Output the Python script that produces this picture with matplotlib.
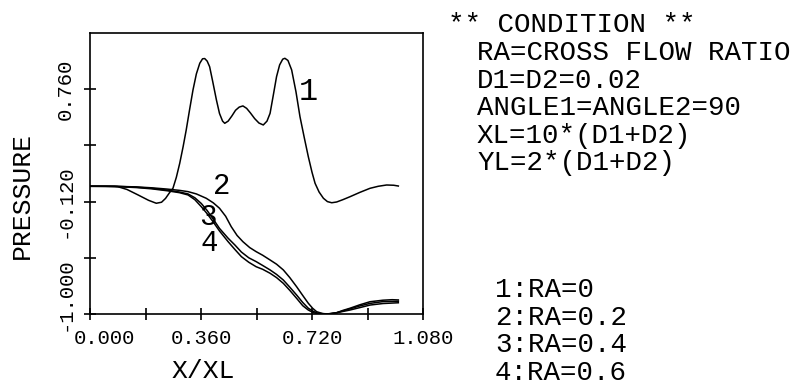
import matplotlib
matplotlib.use("Agg")
import matplotlib.pyplot as plt
import matplotlib.transforms as mtransforms

plt.rcParams['font.family'] = ['Liberation Mono', 'DejaVu Sans Mono']

# curve 1 : RA=0
x1 = [0.0, 0.05, 0.09, 0.12, 0.156, 0.19, 0.215, 0.232, 0.245, 0.258, 0.269,
      0.28, 0.291, 0.302, 0.312, 0.323, 0.334, 0.345, 0.356, 0.365, 0.372,
      0.38, 0.388, 0.398, 0.41, 0.42, 0.43, 0.437, 0.448, 0.46, 0.472, 0.484,
      0.496, 0.508, 0.52, 0.534, 0.548, 0.562, 0.574, 0.584, 0.595, 0.605,
      0.615, 0.625, 0.632, 0.642, 0.654, 0.668, 0.681, 0.695, 0.708, 0.72,
      0.73, 0.743, 0.757, 0.77, 0.784, 0.80, 0.82, 0.843, 0.875, 0.908,
      0.935, 0.962, 0.985, 1.0]
y1 = [0.0, 0.0, -0.003, -0.025, -0.068, -0.11, -0.133, -0.125, -0.095, -0.05,
      -0.016, 0.07, 0.18, 0.31, 0.44, 0.60, 0.754, 0.88, 0.963, 0.998, 1.0,
      0.98, 0.936, 0.82, 0.676, 0.57, 0.51, 0.493, 0.51, 0.55, 0.595, 0.62,
      0.629, 0.61, 0.575, 0.53, 0.495, 0.48, 0.51, 0.571, 0.72, 0.858,
      0.95, 0.995, 1.002, 0.985, 0.911, 0.74, 0.545, 0.38, 0.232, 0.11,
      0.023, -0.045, -0.094, -0.12, -0.129, -0.123, -0.105, -0.082, -0.048,
      -0.016, 0.0, 0.01, 0.008, 0.002]

# curve 2 : RA=0.2
x2 = [0.0, 0.08, 0.15, 0.2, 0.25, 0.29, 0.318, 0.345, 0.377, 0.40, 0.42, 0.44,
      0.458, 0.477, 0.496, 0.518, 0.539, 0.56, 0.584, 0.605, 0.627, 0.648,
      0.67, 0.69, 0.708, 0.722, 0.735, 0.755, 0.778, 0.80, 0.82, 0.843,
      0.875, 0.908, 0.95, 0.98, 1.0]
y2 = [0.0, 0.0, -0.005, -0.012, -0.022, -0.032, -0.042, -0.06, -0.094, -0.13,
      -0.172, -0.235, -0.316, -0.385, -0.434, -0.48, -0.512, -0.54, -0.577,
      -0.61, -0.655, -0.715, -0.786, -0.855, -0.916, -0.955, -0.982, -0.997,
      -1.0, -0.99, -0.972, -0.955, -0.928, -0.904, -0.892, -0.888, -0.89]

# curve 3 : RA=0.4
x3 = [0.0, 0.08, 0.15, 0.2, 0.25, 0.29, 0.318, 0.34, 0.361, 0.38, 0.399, 0.42,
      0.448, 0.47, 0.491, 0.515, 0.539, 0.56, 0.584, 0.605, 0.627, 0.648,
      0.67, 0.69, 0.708, 0.725, 0.74, 0.772, 0.80, 0.843, 0.875, 0.908,
      0.95, 1.0]
y3 = [0.0, 0.0, -0.007, -0.016, -0.03, -0.045, -0.06, -0.09, -0.135, -0.19,
      -0.255, -0.33, -0.407, -0.46, -0.515, -0.56, -0.59, -0.62, -0.655,
      -0.69, -0.734, -0.79, -0.851, -0.91, -0.955, -0.98, -0.995, -1.0,
      -0.99, -0.96, -0.937, -0.917, -0.903, -0.90]

# curve 4 : RA=0.6
x4 = [0.0, 0.08, 0.15, 0.2, 0.25, 0.29, 0.318, 0.34, 0.361, 0.38, 0.399, 0.42,
      0.448, 0.47, 0.491, 0.515, 0.539, 0.56, 0.584, 0.605, 0.627, 0.648,
      0.67, 0.69, 0.708, 0.725, 0.74, 0.768, 0.80, 0.843, 0.875, 0.908,
      0.95, 1.0]
y4 = [0.0, -0.002, -0.01, -0.02, -0.035, -0.05, -0.068, -0.105, -0.16, -0.215,
      -0.277, -0.35, -0.434, -0.495, -0.551, -0.595, -0.63, -0.65, -0.681,
      -0.715, -0.76, -0.815, -0.877, -0.935, -0.969, -0.99, -0.998, -1.0,
      -0.99, -0.969, -0.95, -0.93, -0.918, -0.912]

xticks = [0.0, 0.36, 0.72, 1.08]
xminor = [0.18, 0.54, 0.90]
yticks = [-1.0, -0.12, 0.76]
yminor = [-0.56, 0.32]

condition = ["RA=CROSS FLOW RATIO", "D1=D2=0.02", "ANGLE1=ANGLE2=90",
             "XL=10*(D1+D2)", "YL=2*(D1+D2)"]
legend_lines = ["1:RA=0", "2:RA=0.2", "3:RA=0.4", "4:RA=0.6"]

W, H = 798, 389
fig = plt.figure(figsize=(W / 100, H / 100), dpi=100)
ax = fig.add_axes([90 / W, 1 - 314 / H, 333 / W, 281 / H])

for xs, ys in [(x1, y1), (x2, y2), (x3, y3), (x4, y4)]:
    ax.plot(xs, ys, color='black', lw=1.1)

ax.set_xlim(0, 1.08)
ax.set_ylim(-1.0, 1.2)
ax.set_xticks(xticks)
ax.set_xticks(xminor, minor=True)
ax.set_yticks(yticks)
ax.set_yticks(yminor, minor=True)
ax.set_xticklabels(['%.3f' % v for v in xticks])
ax.set_yticklabels(['%.3f' % v for v in yticks], rotation=90, va='center')
ax.tick_params(which='both', direction='inout', length=8, width=1.2,
               labelsize=14.8, colors='black')
ax.tick_params(axis='x', pad=7)
ax.tick_params(axis='y', pad=7)
for s in ax.spines.values():
    s.set_linewidth(1.2)

# shift the end labels so they don't collide at the corner
lbl = ax.get_xticklabels()[0]
lbl.set_transform(lbl.get_transform() +
                  mtransforms.ScaledTranslation(0.14, 0, fig.dpi_scale_trans))
lbl = ax.get_yticklabels()[0]
lbl.set_transform(lbl.get_transform() +
                  mtransforms.ScaledTranslation(0, 0.2, fig.dpi_scale_trans))

ax.set_xlabel("X/XL", fontsize=19)
ax.xaxis.set_label_coords(0.34, -0.16)
ax.set_ylabel("PRESSURE", fontsize=19)
ax.yaxis.set_label_coords(-0.17, 0.42)

ax.text(0.708, 0.74, "1", fontsize=23, ha='center', va='center')
ax.text(0.426, 0.0, "2", fontsize=21, ha='center', va='center')
ax.text(0.383, -0.238, "3", fontsize=21, ha='center', va='center')
ax.text(0.388, -0.446, "4", fontsize=21, ha='center', va='center')

fig.text(448 / W, 1 - 32 / H, "** CONDITION **", fontsize=19.8, va='baseline')
for i, line in enumerate(condition):
    fig.text(477 / W, 1 - (60 + 27.6 * i) / H, line, fontsize=19.8, va='baseline')
for i, line in enumerate(legend_lines):
    fig.text(495 / W, 1 - (297 + 27.7 * i) / H, line, fontsize=19.8, va='baseline')

fig.savefig("out.png", dpi=100)
